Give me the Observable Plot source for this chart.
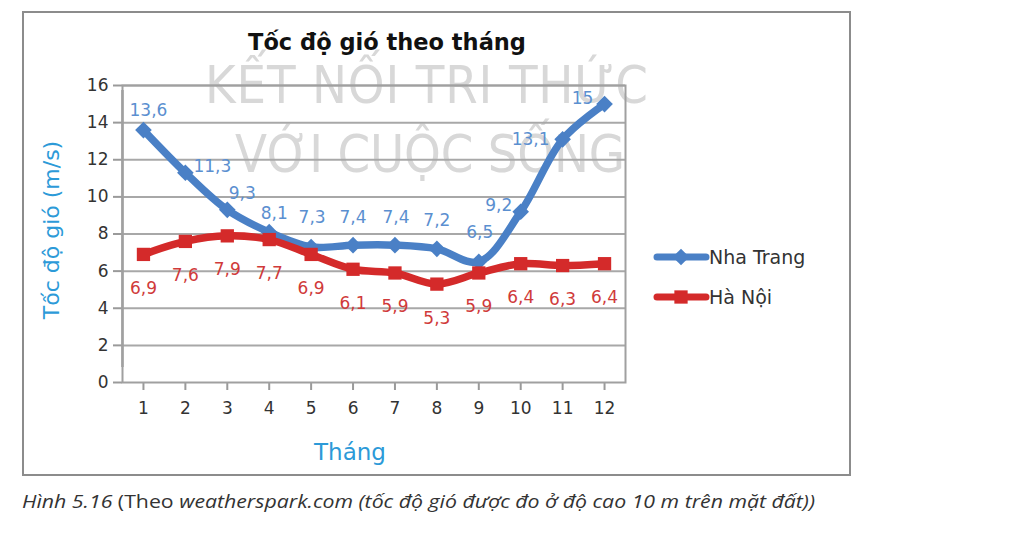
<!DOCTYPE html>
<html>
<head>
<meta charset="utf-8">
<script src="https://cdn.jsdelivr.net/npm/d3@7"></script>
<script src="https://cdn.jsdelivr.net/npm/@observablehq/plot@0.6"></script>
<style>
  body { margin: 0; background: #fff; }
  #wrap { position: relative; width: 1014px; height: 547px; overflow: hidden; font-family: "DejaVu Sans", sans-serif; }
  #box { position: absolute; left: 22px; top: 11px; width: 829px; height: 465px; box-sizing: border-box; border: 2px solid #8c8c8c; }
  .layer { position: absolute; left: 0; top: 0; }
  #chart [aria-label*="axis"] path, #chart [aria-label*="axis"] line { stroke: #9a9a9a; stroke-width: 2; }
  #chart [aria-label*="axis"] .domain { display: none; }
</style>
</head>
<body>
<div id="wrap">
  <div id="box"></div>
  <svg class="layer" width="1014" height="547" id="watermark">
    <text x="205" y="103" textLength="443" lengthAdjust="spacing" font-family="DejaVu Sans Condensed, DejaVu Sans" font-size="52" fill="#d8d8d8">KẾT NỐI TRI THỨC</text>
    <text x="235" y="172" textLength="390" lengthAdjust="spacing" font-family="DejaVu Sans Condensed, DejaVu Sans" font-size="52" fill="#d8d8d8">VỚI CUỘC SỐNG</text>
  </svg>
  <div class="layer" id="chart"></div>
  <svg class="layer" width="1014" height="547" id="texts">
    <text x="387" y="50" text-anchor="middle" font-family="DejaVu Sans" font-weight="bold" font-size="22.5" fill="#111">Tốc độ gió theo tháng</text>
    <text transform="translate(59,230) rotate(-90)" text-anchor="middle" font-family="DejaVu Sans" font-size="22" fill="#2c9ad8">Tốc độ gió (m/s)</text>
    <text x="350" y="460" text-anchor="middle" font-family="DejaVu Sans" font-size="23" fill="#2c9ad8">Tháng</text>
    <g id="legend"></g>
    <text x="22" y="508" textLength="793" lengthAdjust="spacingAndGlyphs" font-family="Open Sans, Noto Sans" font-size="18" fill="#333"><tspan font-style="italic">Hình 5.16 </tspan><tspan>(Theo </tspan><tspan font-style="italic">weatherspark.com (tốc độ gió được đo ở độ cao 10 m trên mặt đất))</tspan></text>
  </svg>
</div>
<script>
// ---- data ----
const months = [1, 2, 3, 4, 5, 6, 7, 8, 9, 10, 11, 12];
const nhaTrang = [13.6, 11.3, 9.3, 8.1, 7.3, 7.4, 7.4, 7.2, 6.5, 9.2, 13.1, 15];
const haNoi = [6.9, 7.6, 7.9, 7.7, 6.9, 6.1, 5.9, 5.3, 5.9, 6.4, 6.3, 6.4];
const yTicks = [0, 2, 4, 6, 8, 10, 12, 14, 16];
const seriesNames = ["Nha Trang", "Hà Nội"];

// ---- layout (label offsets in px, not data) ----
const nhaTrangLabelOffsets = [[5,-20],[27,-6],[15,-16],[5,-19],[1,-29],[0,-28],[1,-28],[0,-28],[1,-29],[-22,-6],[-32,0],[-22,-6]];
const blue = "#4a80c6", red = "#d42a2a";
const blueLabel = "#5b8fd0", redLabel = "#d03a3a";

const nhaData = months.map((m, i) => ({month: m, city: seriesNames[0], speed: nhaTrang[i]}));
const hnData = months.map((m, i) => ({month: m, city: seriesNames[1], speed: haNoi[i]}));
const fmt = v => String(v).replace(".", ",");

const plot = Plot.plot({
  width: 1014,
  height: 476,
  marginLeft: 122,
  marginRight: 389,
  marginTop: 85,
  marginBottom: 94,
  style: {background: "transparent", fontFamily: "DejaVu Sans, sans-serif", fontSize: "17px", color: "#333"},
  x: {type: "point", domain: months, padding: 0.5, round: false, label: null, tickSize: 8, tickPadding: 11},
  y: {domain: [0, 16], ticks: yTicks, label: null, tickSize: 9, tickPadding: 5},
  marks: [
    Plot.ruleY(yTicks.slice(1), {stroke: "#a8a8a8", strokeWidth: 2}),
    Plot.frame({stroke: "#a0a0a0", strokeWidth: 2}),
    Plot.ruleX([months[0]], {x: d => d, y1: 0, y2: 16, dx: -21, insetTop: -15, insetBottom: -5, stroke: "#a0a0a0", strokeWidth: 2.5}),
    Plot.line(nhaData, {x: "month", y: "speed", stroke: blue, strokeWidth: 7.5, curve: "catmull-rom"}),
    Plot.dot(nhaData, {x: "month", y: "speed", symbol: "diamond2", r: 7.5, fill: blue, stroke: "none"}),
    Plot.line(hnData, {x: "month", y: "speed", stroke: red, strokeWidth: 7.5, curve: "catmull-rom"}),
    Plot.dot(hnData, {x: "month", y: "speed", symbol: "square", r: 7.5, fill: red, stroke: "none"}),
    ...nhaData.map((d, i) => Plot.text([d], {x: "month", y: "speed", text: d => fmt(d.speed), fill: blueLabel, fontSize: 17, dx: nhaTrangLabelOffsets[i][0], dy: nhaTrangLabelOffsets[i][1]})),
    Plot.text(hnData, {x: "month", y: "speed", text: d => fmt(d.speed), fill: redLabel, fontSize: 17, dy: 34})
  ]
});
document.getElementById("chart").appendChild(plot);

// ---- legend ----
const legend = d3.select("#legend");
const legendItems = [
  {name: seriesNames[0], color: blue, y: 257, shape: "diamond"},
  {name: seriesNames[1], color: red, y: 297, shape: "square"}
];
legendItems.forEach(it => {
  const g = legend.append("g");
  g.append("line").attr("x1", 657).attr("x2", 706).attr("y1", it.y).attr("y2", it.y)
    .attr("stroke", it.color).attr("stroke-width", 7).attr("stroke-linecap", "round");
  const sym = it.shape === "diamond" ? d3.symbolDiamond2 : d3.symbolSquare;
  g.append("path").attr("d", d3.symbol(sym, Math.PI * 7.5 * 7.5)()).attr("transform", `translate(681,${it.y})`).attr("fill", it.color);
  g.append("text").attr("x", 709).attr("y", it.y + 7).attr("font-family", "DejaVu Sans").attr("font-size", 19).attr("fill", "#333").text(it.name);
});
</script>
</body>
</html>
